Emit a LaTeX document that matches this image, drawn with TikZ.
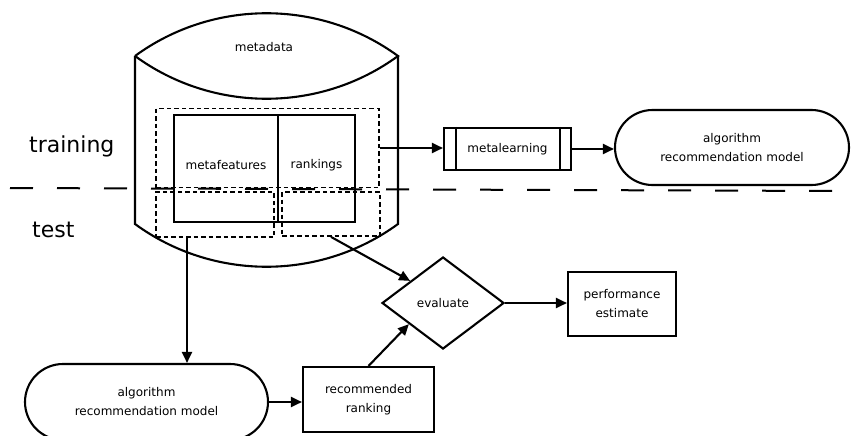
\documentclass[tikz,border=0pt]{standalone}
\usepackage{fontspec}
\setmainfont{DejaVu Sans}
\usetikzlibrary{shapes.geometric,shapes.misc,arrows.meta,calc}
\begin{document}
\begin{tikzpicture}[x=1pt,y=-1pt,
  every node/.style={font=\fontsize{12}{19}\selectfont, inner sep=0pt, align=center},
  solidline/.style={line width=2.1pt, line join=miter},
  solidbox/.style={draw, line width=2.1pt, rectangle},
  dotbox/.style={draw, line width=1.8pt, rectangle, dash pattern=on 4.5pt off 3pt},
  stadium/.style={draw, line width=2.1pt, rounded rectangle},
  arr/.style={line width=2.1pt, -{Triangle[length=11pt,width=10pt]}},
  bigtext/.style={font=\fontsize{22}{26}\selectfont},
  longdash/.style={line width=2pt, dash pattern=on 23pt off 24pt}]
\useasboundingbox (0,0) rectangle (851,436);

% long dashed separator
\coordinate (dl) at (10,188);
\coordinate (dr) at (835,191);
\draw[longdash] (dl) -- (dr);

% labels training / test
\node[bigtext, anchor=base west] (tr) at (29,152) {training};
\node[bigtext, anchor=base west] (te) at (32,237) {test};

% metadata cylinder
\draw[solidline] (135,56) .. controls (213,-1) and (320,-1) .. (398,56)
                 .. controls (320,113) and (213,113) .. (135,56);
\draw[solidline] (135,56) -- (135,224) .. controls (213,281) and (320,281) .. (398,224) -- (398,56);
\node (md) at (264,47) {metadata};

% boxes inside the cylinder
\node[solidbox, minimum width=104pt, minimum height=107pt] (mf) at (226,168.5) {};
\node (mft) at (226,165) {metafeatures};
\node[solidbox, minimum width=77pt, minimum height=107pt] (rk) at (316.5,168.5) {};
\node (rkt) at (316.5,165) {rankings};

% dotted partitions
\node[dotbox, minimum width=223pt, minimum height=79pt] (trainR) at (267.5,148) {};
\node[dotbox, minimum width=118pt, minimum height=45pt] (testMF) at (215,214.5) {};
\node[dotbox, minimum width=98pt, minimum height=44pt] (testRK) at (331,214) {};

% metalearning
\node[solidbox, minimum width=127pt, minimum height=42pt] (ml) at (507.5,149) {metalearning};
\draw[line width=2.1pt] ([xshift=13pt]ml.north west) -- ([xshift=13pt]ml.south west);
\draw[line width=2.1pt] ([xshift=-12pt]ml.north east) -- ([xshift=-12pt]ml.south east);

% models
\node[stadium, minimum width=234pt, minimum height=75pt] (model1) at (732,147.5) {algorithm\\recommendation model};
\node[stadium, minimum width=243pt, minimum height=76pt] (model2) at (146.5,402) {algorithm\\recommendation model};

% recommended ranking, evaluate, performance
\node[solidbox, minimum width=131pt, minimum height=65pt] (rr) at (368.5,399.5) {recommended\\ranking};
\node[draw, line width=2.1pt, diamond, aspect=1.33, minimum width=122pt, minimum height=92pt] (ev) at (443,303) {evaluate};
\node[solidbox, minimum width=108pt, minimum height=64pt] (pe) at (622,304) {performance\\estimate};

% connectors
\draw[arr] (trainR.east) -- (trainR.east -| ml.west);
\draw[arr] (ml.east) -- (ml.east -| model1.west);
\coordinate (mfout) at ([xshift=-28pt]testMF.south);
\draw[arr] (mfout) -- (mfout |- model2.north);
\draw[arr] (testRK.south) -- ($(ev.west)!0.47!(ev.north)$);
\draw[arr] (model2.east) -- (model2.east -| rr.west);
\draw[arr] (rr.north) -- ($(ev.west)!0.45!(ev.south)$);
\draw[arr] (ev.east) -- (ev.east -| pe.west);
\end{tikzpicture}
\end{document}
